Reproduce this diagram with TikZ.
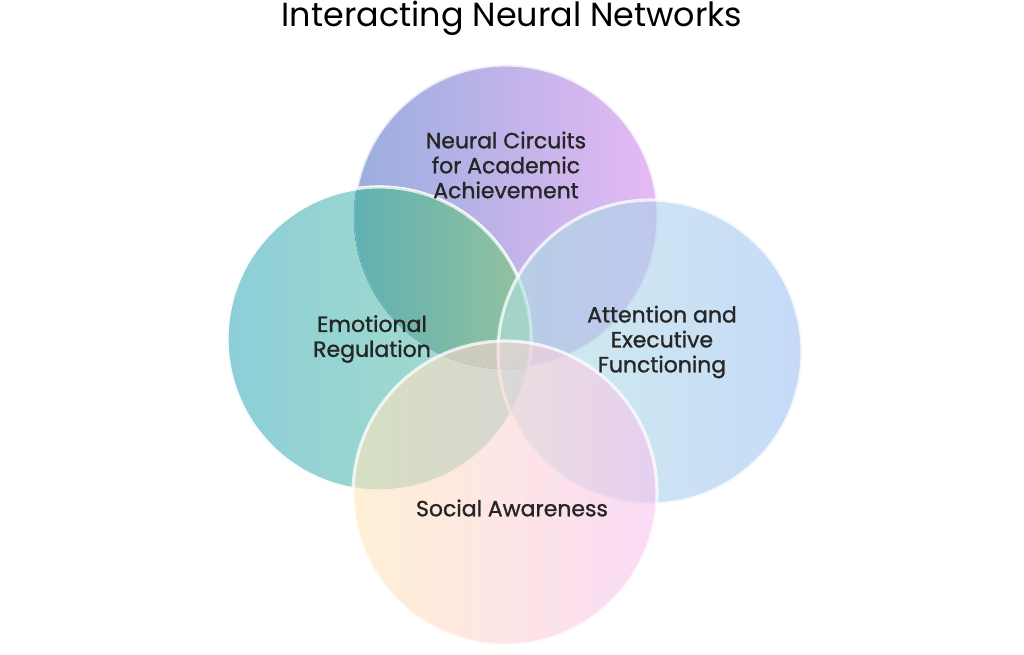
\documentclass[tikz,border=0pt]{standalone}
\usepackage{fontspec}
\setmainfont{Poppins}
\newfontfamily\lblfont{Poppins}[FakeBold=1.2]
\definecolor{acadL}{HTML}{8CA2DA}
\definecolor{acadR}{HTML}{E2B0F2}
\definecolor{emoL}{HTML}{7CC8D2}
\definecolor{emoR}{HTML}{9EDAC2}
\definecolor{lensL}{HTML}{38A4BC}
\definecolor{lensR}{HTML}{96C2A0}
\definecolor{attL}{HTML}{B2E2E2}
\definecolor{attR}{HTML}{A0C1F3}
\definecolor{socL}{HTML}{FFE6B8}
\definecolor{socR}{HTML}{F8C2F0}

\begin{document}
\begin{tikzpicture}[x=0.02cm,y=-0.02cm,
	bubble/.style={circle, minimum size=6.08cm, inner sep=0pt, draw=white, line width=1.8pt, draw opacity=.75, fill opacity=.88},
	lbl/.style={align=center, font=\lblfont\fontsize{12.5}{14.2}\selectfont, text=black!85}]
			
			\useasboundingbox (0,0) rectangle (1024,655);
			\node[font=\fontsize{19}{22}\selectfont] (title) at (512,18) {Interacting Neural Networks};
			% the four networks
			\node[bubble, left color=acadL, right color=acadR] (acad) at (506,217) {};
			\node[bubble, left color=emoL, right color=emoR] (emo) at (379,339) {};
			\begin{scope}
				\clip (acad.center) circle[radius=152];
				\clip (emo.center) circle[radius=152];
				\fill[left color=lensL, right color=lensR] (emo.center) circle[radius=152];
				\draw[emoL!70!lensL, line width=1.2pt] (acad.center) circle[radius=152];
			\end{scope}
			\draw[white, line width=1.8pt, draw opacity=.75] (emo) circle[radius=152];
			\node[bubble, fill opacity=.6, left color=attL, right color=attR] (att) at (650,352) {};
			\node[bubble, fill opacity=.6, left color=socL, right color=socR] (soc) at (505,493) {};
			% labels
			\node[lbl] (acadtxt) at (506,165) {Neural Circuits\\for Academic\\Achievement};
			\node[lbl] (emotxt) at (372,339) {Emotional\\Regulation};
			\node[lbl] (atttxt) at (662,342) {Attention and\\Executive\\Functioning};
			\node[lbl] (soctxt) at (512,508) {Social Awareness};
		\end{tikzpicture}
\end{document}
